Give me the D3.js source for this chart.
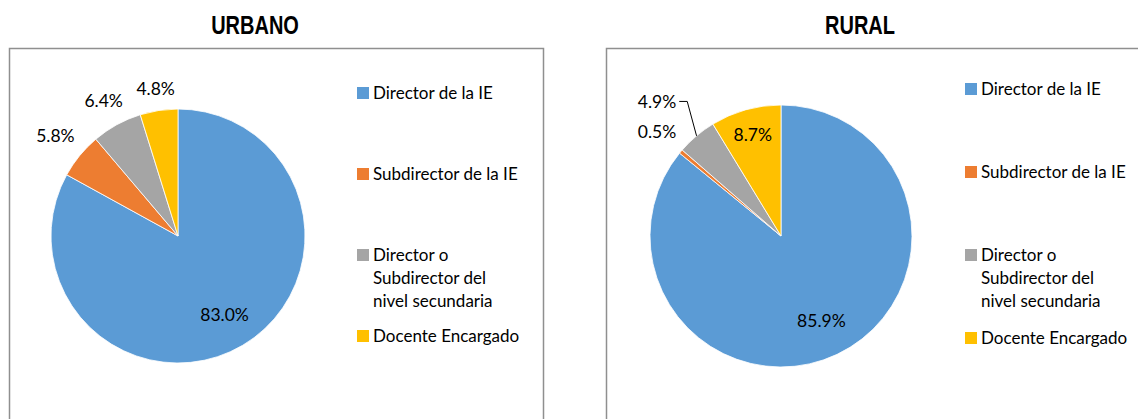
<!DOCTYPE html>
<html>
<head>
<meta charset="utf-8">
<script src="https://cdn.jsdelivr.net/npm/d3@7"></script>
<style>
  body { margin: 0; background: #fff; }
  text { font-family: Lato, "Open Sans", sans-serif; fill: #000; }
  .title { font-family: "Liberation Sans", Arial, sans-serif; font-weight: bold; font-size: 25px; }
</style>
</head>
<body>
<svg id="chart" width="1138" height="419"></svg>
<script>
// Chart data
const categories = ['Director de la IE', 'Subdirector de la IE', 'Director o Subdirector del nivel secundaria', 'Docente Encargado'];
const urbanoValues = [83.0, 5.8, 6.4, 4.8];
const ruralValues = [85.9, 0.5, 4.9, 8.7];
const panelTitles = ['URBANO', 'RURAL'];

const colors = d3.scaleOrdinal()
  .domain(categories)
  .range(['#5B9BD5', '#ED7D31', '#A5A5A5', '#FFC000']);

const svg = d3.select('#chart');

// layout for each panel
const panels = [
  {title: panelTitles[0], values: urbanoValues, frameX: 9.5, frameW: 534, titleX: 255,
   cx: 178, cy: 236, r: 127, legX: 357, legTop: 93, legStep: 81},
  {title: panelTitles[1], values: ruralValues, frameX: 606.5, frameW: 600, titleX: 860,
   cx: 781, cy: 236, r: 131, legX: 965, legTop: 89, legStep: 83}
];

const pie = d3.pie().sort(null).value(d => d.value);
const fmt = d3.format('.1f');

panels.forEach(p => {
  const g = svg.append('g');

  // frame
  g.append('rect')
    .attr('x', p.frameX).attr('y', 48.5)
    .attr('width', p.frameW).attr('height', 420)
    .attr('fill', 'none').attr('stroke', '#8f8f8f').attr('stroke-width', 1.5);

  // narrow bold title (squeezed horizontally)
  g.append('text')
    .attr('class', 'title')
    .attr('transform', `translate(${p.titleX},34) scale(0.8,1)`)
    .attr('text-anchor', 'middle')
    .text(p.title);

  const data = categories.map((c, i) => ({cat: c, value: p.values[i]}));
  const arcs = pie(data);
  const arc = d3.arc().innerRadius(0).outerRadius(p.r);

  const pg = g.append('g').attr('transform', `translate(${p.cx},${p.cy})`);

  pg.selectAll('path')
    .data(arcs)
    .enter()
    .append('path')
      .attr('d', arc)
      .attr('fill', d => colors(d.data.cat))
      .attr('stroke', '#fff')
      .attr('stroke-width', 0.8);

  // Labels: inside for big slices, outside for small ones
  let prevOut = null;
  arcs.forEach(d => {
    const a = (d.startAngle + d.endAngle) / 2;
    const sx = Math.sin(a), cy = -Math.cos(a);
    const label = pg.append('text')
      .attr('text-anchor', 'middle')
      .attr('dy', '0.35em')
      .style('font-size', '17.5px')
      .text(fmt(d.data.value) + '%');
    if (d.data.value >= 8) {
      const k = d.data.value > 50 ? 0.72 : 0.8;
      label.attr('x', sx * p.r * k).attr('y', cy * p.r * k);
      return;
    }
    const w = label.node().getComputedTextLength();
    const h = 14;
    const pad = 12 + Math.abs(sx) * w / 2 + Math.abs(cy) * h / 2;
    let x = sx * (p.r + pad), y = cy * (p.r + pad);
    let leader = false;
    if (prevOut && Math.hypot(x - prevOut.x, y - prevOut.y) < 32) {
      // stack above previous label, same right edge
      const right = prevOut.x + prevOut.w / 2;
      x = right - w / 2;
      y = prevOut.y - 30;
      leader = true;
    }
    label.attr('x', x).attr('y', y);
    if (leader) {
      const x0 = x + w / 2 + 3;
      pg.append('path')
        .attr('d', d3.line()([[x0, y], [x0 + 8, y], [sx * p.r, cy * p.r]]))
        .attr('fill', 'none')
        .attr('stroke', '#000')
        .attr('stroke-width', 1);
    }
    prevOut = {x, y, w};
  });

  // Legend
  const lg = g.append('g');
  const maxW = 152;
  categories.forEach((c, i) => {
    const y0 = p.legTop + i * p.legStep;
    lg.append('rect')
      .attr('x', p.legX).attr('y', y0 - 6)
      .attr('width', 12).attr('height', 12)
      .attr('fill', colors(c));
    const t = lg.append('text')
      .style('font-size', '17px');
    // word wrap
    const words = c.split(' ');
    let line = [];
    let lineNo = 0;
    let ts = t.append('tspan').attr('x', p.legX + 16).attr('y', y0).attr('dy', '0.35em');
    words.forEach(wd => {
      line.push(wd);
      ts.text(line.join(' '));
      if (ts.node().getComputedTextLength() > maxW && line.length > 1) {
        line.pop();
        ts.text(line.join(' '));
        line = [wd];
        lineNo++;
        ts = t.append('tspan').attr('x', p.legX + 16)
          .attr('y', y0 + lineNo * 23).attr('dy', '0.35em').text(wd);
      }
    });
  });
});
</script>
</body>
</html>
